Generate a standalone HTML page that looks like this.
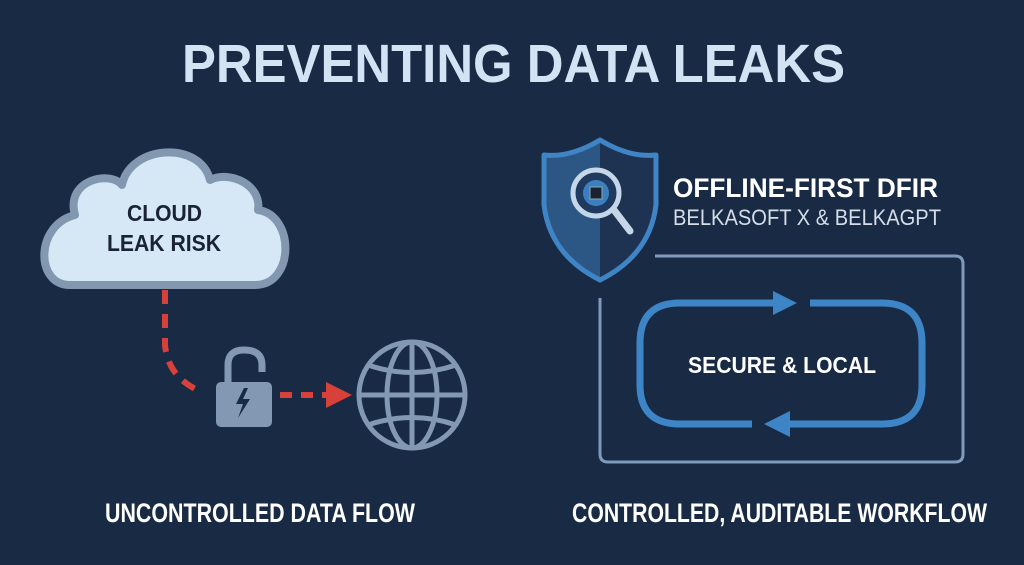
<!DOCTYPE html>
<html><head><meta charset="utf-8"><style>
html,body{margin:0;padding:0;background:#192a45;}
svg{display:block;}
text{font-family:"Liberation Sans",sans-serif;font-weight:bold;}
</style></head><body>
<svg width="1024" height="565" viewBox="0 0 1024 565" xmlns="http://www.w3.org/2000/svg">
<rect width="1024" height="565" fill="#192a45"/>
<text x="182" y="82" font-size="54" fill="#d2e3f4" textLength="663" lengthAdjust="spacingAndGlyphs">PREVENTING DATA LEAKS</text>

<!-- cloud -->
<path d="M70,285 C35,285 35,225 75,215 C65,180 110,170 122,185 C130,145 200,140 210,180 C230,170 262,185 258,210 C295,215 295,285 255,285 Z" fill="#d6e7f6" stroke="#8298b0" stroke-width="8" stroke-linejoin="round"/>
<text x="127" y="221" font-size="23" fill="#1a2336" textLength="75" lengthAdjust="spacingAndGlyphs">CLOUD</text>
<text x="107" y="251" font-size="23" fill="#1a2336" textLength="114" lengthAdjust="spacingAndGlyphs">LEAK RISK</text>

<!-- red dashed path -->
<path d="M165,290 L165,345 Q168,378 202,392" fill="none" stroke="#d8403a" stroke-width="6" stroke-dasharray="14,10"/>
<path d="M280,395 L328,395" fill="none" stroke="#d8403a" stroke-width="6" stroke-dasharray="12,9"/>
<polygon points="326,382 352,395 326,408" fill="#d8403a"/>

<!-- lock -->
<path d="M228,383 L228,365 Q228,350 244,350 Q262,350 262,365 L262,372" fill="none" stroke="#8399b3" stroke-width="7"/>
<rect x="216" y="382" width="56" height="45" rx="5" fill="#8399b3"/>
<polygon points="244,388 236,404 243,404 238,418 250,399 243,399 248,388" fill="#192a45"/>

<!-- globe -->
<g fill="none" stroke="#8399b3" stroke-width="5">
<circle cx="412" cy="395" r="53"/>
<ellipse cx="412" cy="395" rx="25" ry="53"/>
<line x1="412" y1="342" x2="412" y2="448"/>
<line x1="359" y1="395" x2="465" y2="395"/>
<path d="M368,365 Q412,380 456,365"/>
<path d="M368,425 Q412,410 456,425"/>
</g>

<!-- shield -->
<path d="M600,140 Q630,158 656,155 L656,205 Q650,255 600,280 Z" fill="#1e3352"/>
<path d="M600,140 Q570,158 544,155 L544,205 Q550,255 600,280 Z" fill="#2c5785"/>
<path d="M600,140 Q630,158 656,155 L656,205 Q650,255 600,280 Q550,255 544,205 L544,155 Q570,158 600,140 Z" fill="none" stroke="#3f84c4" stroke-width="5" stroke-linejoin="round"/>
<line x1="614" y1="210" x2="630" y2="231" stroke="#c5d6e8" stroke-width="7" stroke-linecap="round"/>
<circle cx="596" cy="193" r="23" fill="#1f3a5e" stroke="#c5d6e8" stroke-width="5"/>
<circle cx="596" cy="193" r="13" fill="#3c7fc0"/>
<rect x="590" y="187" width="12" height="12" fill="#1a2233" stroke="#8aa" stroke-width="1"/>

<text x="673" y="197" font-size="27" fill="#ffffff" textLength="265" lengthAdjust="spacingAndGlyphs">OFFLINE-FIRST DFIR</text>
<text x="673" y="225" font-size="22" font-weight="normal" style="font-weight:normal" fill="#d5dde8" textLength="268" lengthAdjust="spacingAndGlyphs">BELKASOFT X &amp; BELKAGPT</text>

<!-- outer box -->
<path d="M655,256 L955,256 Q963,256 963,264 L963,454 Q963,462 955,462 L608,462 Q600,462 600,454 L600,298" fill="none" stroke="#7f9bbb" stroke-width="3"/>

<!-- inner loop -->
<g fill="none" stroke="#3d85c6" stroke-width="7">
<path d="M780,303 L680,303 Q640,303 640,343 L640,385 Q640,424 680,424 L752,424"/>
<path d="M810,303 L882,303 Q922,303 922,343 L922,385 Q922,424 882,424 L785,424"/>
</g>
<polygon points="773,291 797,303 773,315" fill="#3d85c6"/>
<polygon points="790,411 764,424 790,437" fill="#3d85c6"/>
<text x="688" y="373" font-size="23" fill="#ffffff" textLength="188" lengthAdjust="spacingAndGlyphs">SECURE &amp; LOCAL</text>

<text x="105" y="522" font-size="27" fill="#ffffff" textLength="310" lengthAdjust="spacingAndGlyphs">UNCONTROLLED DATA FLOW</text>
<text x="572" y="522" font-size="27" fill="#ffffff" textLength="415" lengthAdjust="spacingAndGlyphs">CONTROLLED, AUDITABLE WORKFLOW</text>
</svg>
</body></html>
